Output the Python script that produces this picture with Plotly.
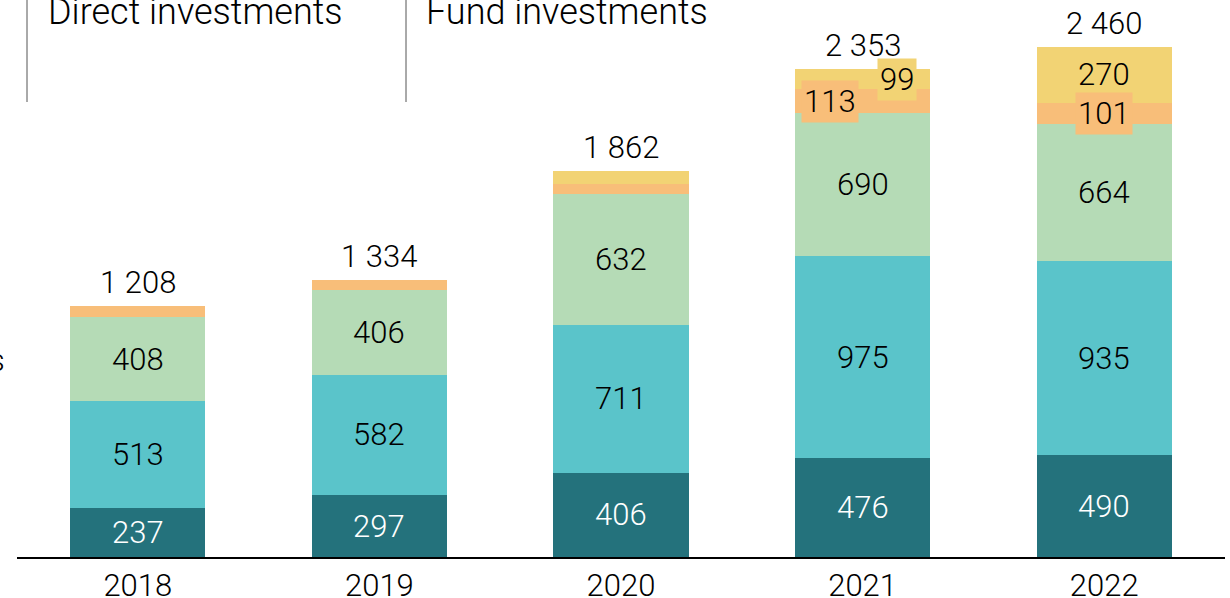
import plotly.graph_objects as go

years = ["2018", "2019", "2020", "2021", "2022"]
dark_teal = [237, 297, 406, 476, 490]
teal = [513, 582, 711, 975, 935]
green = [408, 406, 632, 690, 664]
orange = [50, 49, 48, 113, 101]
yellow = [0, 0, 65, 99, 270]
totals = [1208, 1334, 1862, 2353, 2460]

series = [
    (dark_teal, "#24727C", "white"),
    (teal, "#5AC4CA", "black"),
    (green, "#B5DBB6", "black"),
    (orange, "#F8BE79", "black"),
    (yellow, "#F2D374", "black"),
]

FONT = "Roboto"
NUM_SIZE = 31

fig = go.Figure()
for vals, col, _ in series:
    fig.add_trace(go.Bar(x=years, y=vals, marker=dict(color=col, line=dict(width=0)),
                         hoverinfo="skip", showlegend=False))

annotations = []
special = {
    (3, 3): dict(xshift=-33, bg=True),   # 2021 orange
    (3, 4): dict(xshift=34, bg=True),    # 2021 yellow
    (4, 3): dict(xshift=0, bg=True),     # 2022 orange
}
for i, yr in enumerate(years):
    base = 0
    for s, (vals, col, tcol) in enumerate(series):
        v = vals[i]
        mid = base + v / 2
        base += v
        show = s < 3 or (i, s) in special or (i == 4 and s == 4)
        if not show or v == 0:
            continue
        sp = special.get((i, s), {})
        annotations.append(dict(
            x=i, y=mid, xref="x", yref="y", text=str(v), showarrow=False,
            xanchor="center", yanchor="middle", xshift=sp.get("xshift", 0),
            font=dict(family=FONT, size=NUM_SIZE, color=tcol, weight=300),
            bgcolor=col if sp.get("bg") else None, borderpad=2,
        ))
    annotations.append(dict(
        x=i, y=totals[i], xref="x", yref="y", text=f"{totals[i]:,}".replace(",", " "),
        showarrow=False, xanchor="center", yanchor="bottom", yshift=3,
        font=dict(family=FONT, size=NUM_SIZE, color="black", weight=300),
    ))

W, H = 1230, 598
L, R, T, B = 17, 5, 0, 41
pw = W - L - R
ph = H - T - B

def px_x(p):
    return (p - L) / pw

def px_y(p):
    return 1 - (p - T) / ph

for txt, xl in [("Direct investments", 46), ("Fund investments", 424)]:
    annotations.append(dict(
        x=px_x(xl), y=px_y(35), xref="paper", yref="paper", text=txt, showarrow=False,
        xanchor="left", yanchor="bottom",
        font=dict(family=FONT, size=36, color="black", weight=300),
    ))
annotations.append(dict(
    x=px_x(7), y=px_y(381), xref="paper", yref="paper", text="s", showarrow=False,
    xanchor="right", yanchor="bottom",
    font=dict(family=FONT, size=31, color="black", weight=300),
))

shapes = []
for xl in [27, 406]:
    shapes.append(dict(type="line", xref="paper", yref="paper",
                       x0=px_x(xl), x1=px_x(xl), y0=px_y(102), y1=1.02,
                       line=dict(color="#555555", width=1)))

fig.update_layout(
    barmode="stack", bargap=0.44,
    width=W, height=H, margin=dict(l=L, r=R, t=T, b=B, autoexpand=False),
    paper_bgcolor="white", plot_bgcolor="white",
    annotations=annotations, shapes=shapes,
    font=dict(family=FONT),
    xaxis=dict(type="category", range=[-0.5, 4.5], showline=True, linecolor="black",
               linewidth=2, ticks="",
               tickfont=dict(family=FONT, size=31, color="black", weight=300),
               showgrid=False, zeroline=False, fixedrange=True, automargin=False),
    yaxis=dict(range=[0, ph / 0.2075], visible=False, showgrid=False, zeroline=False,
               fixedrange=True, automargin=False),
)

fig.write_html("out.html", config={"displayModeBar": False},
               post_script="document.body.style.margin='0';")
